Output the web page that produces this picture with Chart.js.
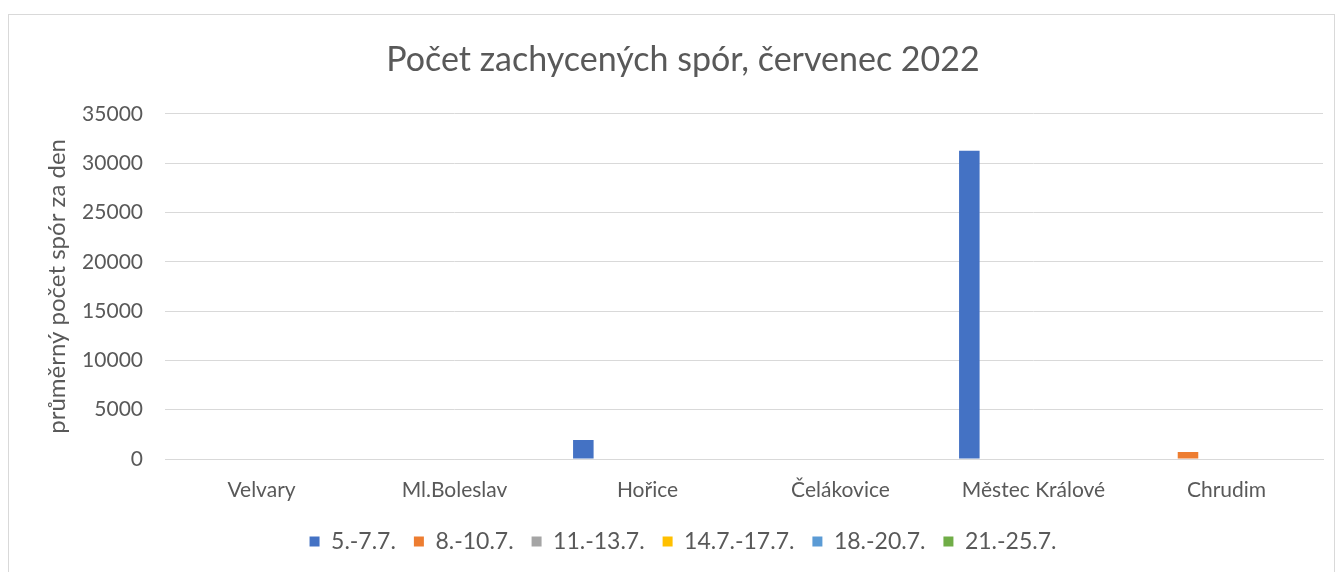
<!DOCTYPE html>
<html>
<head>
<meta charset="utf-8">
<script src="https://cdn.jsdelivr.net/npm/chart.js@4"></script>
<style>
  html, body { margin: 0; padding: 0; background: #fff; overflow: hidden; }
  #wrap { position: relative; width: 1339px; height: 572px; }
  #frame { position: absolute; left: 8px; top: 14px; width: 1325px; height: 620px; border: 1px solid #d9d9d9; }
  canvas { position: absolute; left: 0; top: 0; }
</style>
</head>
<body>
<div id="wrap">
  <div id="frame"></div>
  <canvas id="sporChart" width="1339" height="572"></canvas>
</div>
<script>
var categories = ['Velvary', 'Ml.Boleslav', 'Hořice', 'Čelákovice', 'Městec Králové', 'Chrudim'];
var seriesNames = ['5.-7.7.', '8.-10.7.', '11.-13.7.', '14.7.-17.7.', '18.-20.7.', '21.-25.7.'];
var s1 = [0, 0, 1920, 0, 31250, 0];
var s2 = [0, 0, 0, 0, 0, 700];
var s3 = [0, 0, 0, 0, 0, 0];
var s4 = [0, 0, 0, 0, 0, 0];
var s5 = [0, 0, 0, 0, 0, 0];
var s6 = [0, 0, 0, 0, 0, 0];
var yTicks = [0, 5000, 10000, 15000, 20000, 25000, 30000, 35000];

var colors = ['#4472C4', '#ED7D31', '#A5A5A5', '#FFC000', '#5B9BD5', '#70AD47'];
var allSeries = [s1, s2, s3, s4, s5, s6];
var fontFamily = 'Lato, "Open Sans", sans-serif';
var textColor = '#595959';

var sporChart = new Chart(document.getElementById('sporChart'), {
    type: 'bar',
    data: {
        labels: categories,
        datasets: allSeries.map(function(values, i) {
            return {
                label: seriesNames[i],
                data: values,
                backgroundColor: colors[i],
                borderWidth: 0,
                categoryPercentage: 0.798,
                barPercentage: 0.8
            };
        })
    },
    options: {
        responsive: false,
        animation: false,
        layout: { padding: { left: 43, right: 16, top: 0, bottom: 9 } },
        plugins: {
            title: {
                display: true,
                text: 'Počet zachycených spór, červenec 2022',
                color: textColor,
                font: { family: fontFamily, size: 34, weight: 'normal' },
                padding: { top: 40, bottom: 33 }
            },
            legend: {
                position: 'bottom',
                labels: {
                    color: textColor,
                    font: { family: fontFamily, size: 23 },
                    boxWidth: 10,
                    boxHeight: 10,
                    padding: 18
                }
            },
            tooltip: { enabled: false }
        },
        scales: {
            x: {
                afterFit: function(axis) { axis.height = 53; },
                grid: { display: false, drawTicks: false },
                border: { color: '#d9d9d9', width: 1 },
                ticks: { color: textColor, font: { family: fontFamily, size: 21 }, padding: 19 }
            },
            y: {
                min: 0,
                max: 35000,
                afterBuildTicks: function(axis) {
                    axis.ticks = yTicks.map(function(v) { return { value: v }; });
                },
                afterFit: function(axis) { axis.width = 122; },
                grid: { color: '#d9d9d9', drawTicks: false },
                border: { display: false },
                ticks: {
                    color: textColor,
                    font: { family: fontFamily, size: 21 },
                    padding: 22,
                    callback: function(value) { return String(value); }
                },
                title: {
                    display: true,
                    text: 'průměrný počet spór za den',
                    color: textColor,
                    font: { family: fontFamily, size: 24 },
                    padding: 0
                }
            }
        }
    }
});
</script>
</body>
</html>
